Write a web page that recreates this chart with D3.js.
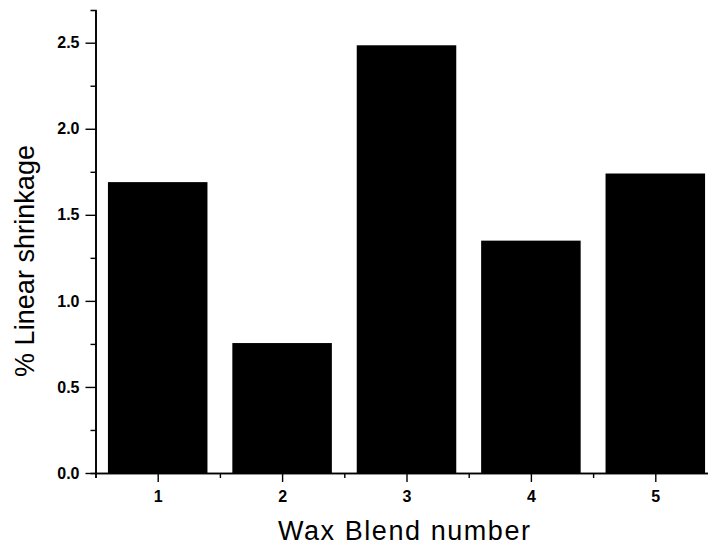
<!DOCTYPE html>
<html>
<head>
<meta charset="utf-8">
<script src="https://cdn.jsdelivr.net/npm/d3@7"></script>
<style>
    html, body { margin: 0; padding: 0; background: #fff; }
    #chart { width: 708px; height: 549px; }
</style>
</head>
<body>
<div id="chart"></div>
<script>
// data
const blends = [1, 2, 3, 4, 5];
const shrinkage = [1.69, 0.755, 2.485, 1.35, 1.74];
const yMajorTicks = [0.0, 0.5, 1.0, 1.5, 2.0, 2.5];
const yMinorTicks = [0.25, 0.75, 1.25, 1.75, 2.25];
const xMajorTicks = [1, 2, 3, 4, 5];
const xMinorTicks = [0.5, 1.5, 2.5, 3.5, 4.5, 5.5];

class BarChart {
    constructor(id) {
        this.div = id;
        this.data = blends.map((b, i) => ({ blend: b, value: shrinkage[i] }));
    }

    add_svg() {
        const div = d3.select(`#${this.div}`);
        div.selectAll("*").remove();
        this.width = 708;
        this.height = 549;
        this.margin = { left: 95.5, right: -9.5, top: 10, bottom: 76 };
        this.innerW = this.width - this.margin.left - this.margin.right;
        this.innerH = this.height - this.margin.top - this.margin.bottom;
        this.svg = div.append("svg")
            .attr("width", this.width)
            .attr("height", this.height);
        this.ChartArea = this.svg.append("g")
            .attr("transform", `translate(${this.margin.left},${this.margin.top})`);
        this.draw_area = this.ChartArea.append("g");
        this.AxisY = this.ChartArea.append("g");
        this.AxisX = this.ChartArea.append("g")
            .attr("transform", `translate(0,${this.innerH})`);
    }

    add_scale() {
        this.x = d3.scaleLinear().domain([0.5, 5.5]).range([0, this.innerW]);
        this.y = d3.scaleLinear().domain([0, 2.69]).range([this.innerH, 0]);
    }

    draw_chart() {
        const barW = this.x(1.4) - this.x(0.6);
        this.draw_area.selectAll("rect").data(this.data).join("rect")
            .attr("x", d => this.x(d.blend) - barW / 2)
            .attr("y", d => this.y(d.value))
            .attr("width", barW)
            .attr("height", d => this.y(0) - this.y(d.value))
            .attr("fill", "#000");
    }

    add_axis() {
        // minor ticks first, then majors with labels
        this.AxisY.append("g").call(d3.axisLeft(this.y).tickValues(yMinorTicks).tickSize(5).tickFormat(""));
        this.AxisY.append("g").call(d3.axisLeft(this.y).tickValues(yMajorTicks).tickSize(10).tickSizeOuter(0).tickPadding(6).tickFormat(d3.format(".1f")));
        this.AxisX.append("g").call(d3.axisBottom(this.x).tickValues(xMinorTicks).tickSize(5).tickFormat(""));
        this.AxisX.append("g").call(d3.axisBottom(this.x).tickValues(xMajorTicks).tickSize(9).tickSizeOuter(0).tickPadding(9).tickFormat(d3.format("d")));

        this.ChartArea.selectAll(".domain").attr("stroke", "#000").attr("stroke-width", 1.6);
        this.ChartArea.selectAll(".tick line").attr("stroke", "#000").attr("stroke-width", 1.4);
        this.ChartArea.selectAll(".tick text")
            .attr("fill", "#000")
            .attr("font-family", "Liberation Sans, Arial")
            .attr("font-weight", "bold")
            .attr("font-size", 16);
    }

    add_label() {
        this.svg.append("text")
            .attr("x", 404)
            .attr("y", 540)
            .attr("text-anchor", "middle")
            .attr("font-family", "Liberation Sans, Arial")
            .attr("font-size", 27)
            .attr("textLength", 252)
            .attr("lengthAdjust", "spacing")
            .text("Wax Blend number");
        this.svg.append("text")
            .attr("transform", `translate(34,261) rotate(-90)`)
            .attr("text-anchor", "middle")
            .attr("font-family", "Liberation Sans, Arial")
            .attr("font-size", 27)
            .attr("textLength", 232)
            .attr("lengthAdjust", "spacing")
            .text("% Linear shrinkage");
    }

    update_chart() {
        this.add_svg();
        this.add_scale();
        this.draw_chart();
        this.add_axis();
        this.add_label();
    }
}

new BarChart("chart").update_chart();
</script>
</body>
</html>
